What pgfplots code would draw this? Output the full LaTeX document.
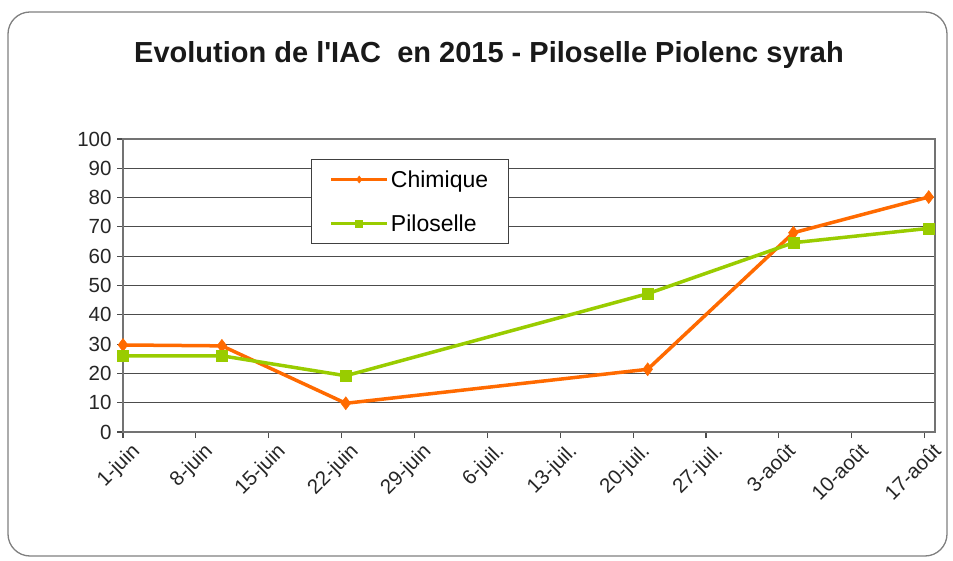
\documentclass[border=0pt]{standalone}
\usepackage{fontspec}
\setmainfont{Liberation Sans}
\usepackage{pgfplots}
\pgfplotsset{compat=1.18}
\definecolor{chim}{RGB}{255,106,0}
\definecolor{pilo}{RGB}{153,204,0}
\begin{document}
\begin{tikzpicture}
\useasboundingbox (0,0) rectangle (953pt,560pt);
\draw[black!50, line width=1.3pt, rounded corners=22pt] (8pt,4pt) rectangle (947pt,548pt);
\node[font=\bfseries\fontsize{29}{34}\selectfont, text=black!90] at (489pt,505pt) {Evolution de l\textquotesingle IAC\ \ en 2015 - Piloselle Piolenc syrah};
\begin{axis}[
  at={(123pt,128pt)}, anchor=south west,
  scale only axis, width=812pt, height=293pt,
  xmin=0, xmax=78, ymin=0, ymax=100,
  /pgf/number format/assume math mode=true,
  xtick={0,7,14,21,28,35,42,49,56,63,70,77},
  xticklabels={1-juin,8-juin,15-juin,22-juin,29-juin,6-juil.,13-juil.,20-juil.,27-juil.,3-août,10-août,17-août},
  ytick={0,10,...,100},
  xtick pos=bottom, ytick pos=left,
  ymajorgrids,
  grid style={black!70, line width=1.1pt},
  axis line style={black!55, line width=1.4pt},
  tick align=outside,
  tick style={black!70, line width=1.1pt},
  major tick length=6pt,
  yticklabel style={font=\fontsize{20.5}{24}\selectfont, text=black!85, xshift=-2pt},
  xticklabel style={font=\fontsize{20.5}{24}\selectfont, text=black!85, rotate=45, anchor=north east, xshift=6pt, yshift=-4pt},
  legend style={at={(0.2315,0.932)}, anchor=north west, draw=black!75, line width=1pt,
    font=\fontsize{23}{27}\selectfont, inner xsep=18pt, inner ysep=9pt, row sep=22pt},
  legend cell align=left,
  legend image code/.code={\draw[mark repeat=2,mark phase=2,#1,mark size=3.5pt] plot coordinates {(0pt,0pt) (28pt,0pt) (56pt,0pt)};},
]
\addplot[chim, line width=3.5pt, mark=diamond*, mark size=6.5pt, mark options={line width=0.5pt}]
  coordinates {(0,29.7) (9.5,29.4) (21.4,9.8) (50.4,21.4) (64.4,68) (77.4,80.2)};
\addlegendentry{Chimique}
\addplot[pilo, line width=3.5pt, mark=square*, mark size=5.5pt, mark options={line width=0.5pt}]
  coordinates {(0,26) (9.5,26) (21.4,19.2) (50.4,47.2) (64.4,64.6) (77.4,69.5)};
\addlegendentry{Piloselle}
\end{axis}
\end{tikzpicture}
\end{document}
